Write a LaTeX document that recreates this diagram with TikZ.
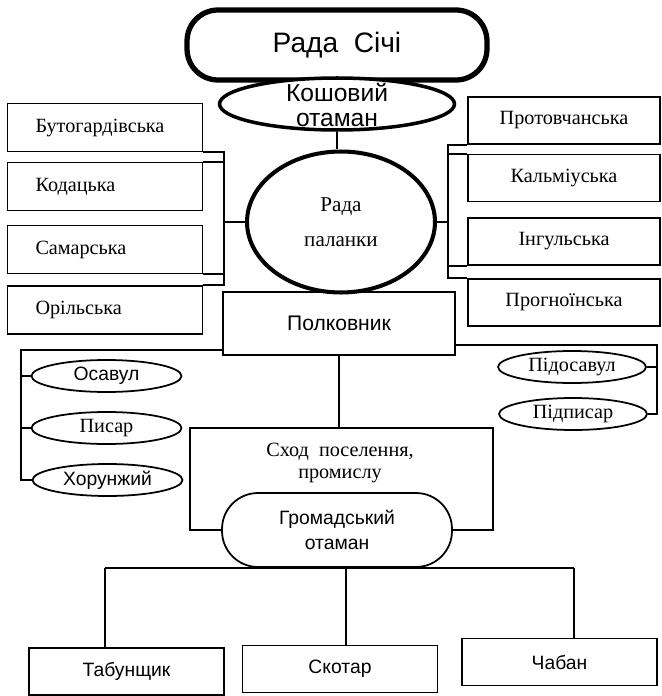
\documentclass[tikz,border=0pt]{standalone}
\usepackage{fontspec}
\setmainfont{Liberation Serif}
\setsansfont{Liberation Sans}
\usetikzlibrary{shapes.geometric}

\begin{document}
\begin{tikzpicture}[x=0.02cm,y=-0.02cm,
  link/.style={line width=1pt},
  region/.style={draw, rectangle, line width=1pt, minimum height=0.96cm, font=\fontsize{11.5}{13}\selectfont},
  leftregion/.style={region, text width=2.78cm, inner xsep=0.56cm, align=left},
  rightregion/.style={region, minimum width=3.84cm, minimum height=0.94cm, align=center},
  officer/.style={draw, ellipse, line width=1pt, inner sep=0pt, minimum width=3cm, minimum height=0.64cm},
  job/.style={draw, rectangle, line width=1pt, minimum width=3.9cm, minimum height=0.94cm, font=\sffamily\fontsize{11}{13}\selectfont}]
  \useasboundingbox (0,0) rectangle (662,696);

  \node[draw, line width=3pt, rounded corners=0.62cm, minimum width=6cm, minimum height=1.4cm, font=\sffamily\fontsize{16}{20}\selectfont] (sich) at (337,45) {Рада\ \ Січі};
  \node[draw, ellipse, fill=white, line width=2pt, minimum width=4.7cm, minimum height=1.04cm] (kosh) at (337,104) {};
  \node[font=\sffamily\fontsize{14}{14.5}\selectfont, align=center, inner sep=0pt] (koshtext) at (337,105) {Кошовий\\отаман};
  \node[draw, ellipse, line width=2.3pt, minimum width=3.76cm, minimum height=2.82cm, align=center, font=\fontsize{12}{20}\selectfont] (palanky) at (341,222) {Рада\\паланки};
  \draw[link] (kosh.south) -- (kosh.south |- palanky.north);

  \node[leftregion] (but) at (105,127.5) {Бутогардівська};
  \node[leftregion] (kod) at (105,186.5) {Кодацька};
  \node[leftregion] (sam) at (105,249.5) {Самарська};
  \node[leftregion] (ori) at (105,310) {Орільська};
  \node[rightregion] (prot) at (564,120.5) {Протовчанська};
  \node[rightregion] (kalm) at (564,178) {Кальміуська};
  \node[rightregion] (ing) at (564,241.5) {Інгульська};
  \node[rightregion] (progn) at (564,302.5) {Прогноїнська};

  \coordinate (lbr) at (224,222);
  \coordinate (rbr) at (448,222);
  \draw[link] (but.south east) -- (but.south east -| lbr) -- (ori.north east -| lbr) -- (ori.north east);
  \draw[link] (kod.north east) -- (kod.north east -| lbr);
  \draw[link] (sam.south east) -- (sam.south east -| lbr);
  \draw[link] (lbr) -- (palanky.west);
  \draw[link] (prot.south west) -- (prot.south west -| rbr) -- (progn.north west -| rbr) -- (progn.north west);
  \draw[link] (kalm.north west) -- (kalm.north west -| rbr);
  \draw[link] (ing.south west) -- (ing.south west -| rbr);
  \draw[link] (rbr) -- (palanky.east);

  \node[draw, line width=1pt, minimum width=4.64cm, minimum height=1.26cm, font=\sffamily\fontsize{12}{14}\selectfont] (polk) at (339,323.5) {Полковник};

  \node[officer, font=\sffamily\fontsize{11}{13}\selectfont] (osav) at (106.5,376) {Осавул};
  \node[officer, font=\fontsize{11.5}{13}\selectfont] (pysar) at (106.5,428) {Писар};
  \node[officer, font=\sffamily\fontsize{11}{13}\selectfont] (khor) at (107.5,480) {Хорунжий};
  \node[officer, minimum width=2.96cm, font=\fontsize{11.5}{13}\selectfont] (pidos) at (572,367) {Підосавул};
  \node[officer, minimum width=2.96cm, font=\fontsize{11.5}{13}\selectfont] (pidpys) at (573,414) {Підписар};

  \coordinate (lof) at (21,350);
  \coordinate (rof) at (657,345);
  \draw[link] (lof -| polk.west) -- (lof) |- (khor.west);
  \draw[link] (lof |- osav.west) -- (osav.west);
  \draw[link] (lof |- pysar.west) -- (pysar.west);
  \draw[link] (rof -| polk.east) -- (rof) |- (pidpys.east);
  \draw[link] (rof |- pidos.east) -- (pidos.east);

  \node[draw, line width=1pt, minimum width=6.06cm, minimum height=2.04cm] (shod) at (341.5,479) {};
  \node[font=\fontsize{11.5}{13}\selectfont, align=center] (shodtext) at (340,463) {Сход\ \ поселення,\\промислу};
  \draw[link] (polk.south) -- (polk.south |- shod.north);
  \node[draw, fill=white, line width=1pt, rounded corners=0.72cm, minimum width=4.6cm, minimum height=1.48cm, align=center, font=\sffamily\fontsize{11}{14}\selectfont] (hrom) at (337,530) {Громадський\\отаман};

  \node[job] (tab) at (126.5,671.5) {Табунщик};
  \node[job] (skot) at (340,669) {Скотар};
  \node[job] (chab) at (559.5,662) {Чабан};
  \coordinate (b1) at (105,568);
  \coordinate (b2) at (346,568);
  \coordinate (b3) at (574,568);
  \draw[link] (b1) -- (b3);
  \draw[link] (b1) -- (b1 |- tab.north);
  \draw[link] (b2) -- (b2 |- skot.north);
  \draw[link] (b3) -- (b3 |- chab.north);
\end{tikzpicture}
\end{document}
